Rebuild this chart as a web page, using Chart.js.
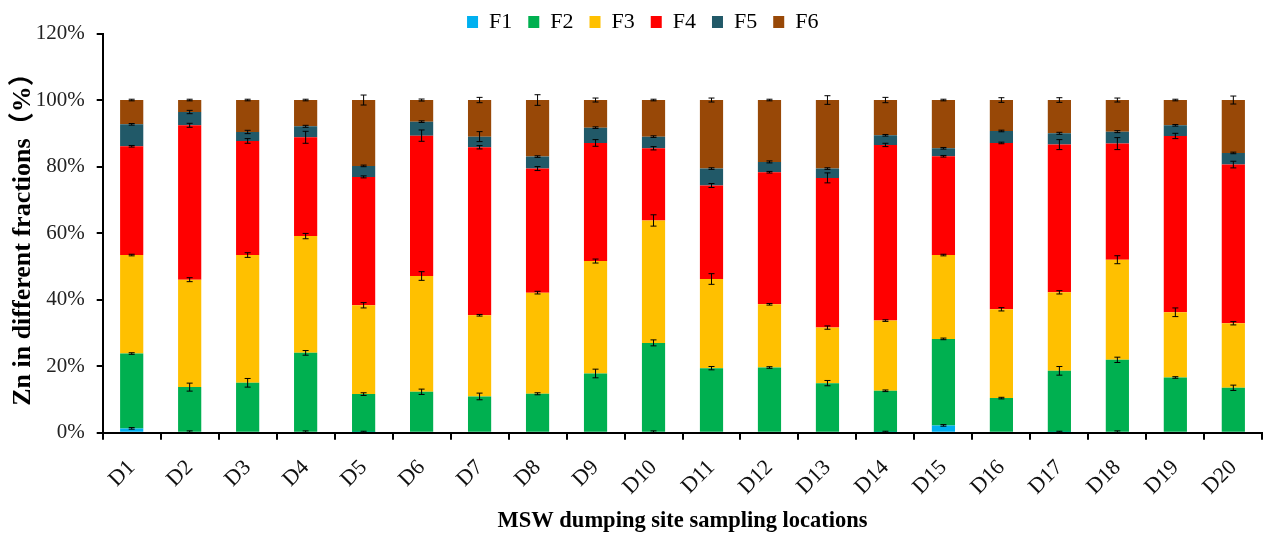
<!DOCTYPE html>
<html>
<head>
<meta charset="utf-8">
<script src="https://cdn.jsdelivr.net/npm/chart.js@4"></script>
<style>
html,body{margin:0;padding:0;background:#fff;}
#wrap{width:1267px;height:535px;position:relative;}
</style>
</head>
<body>
<div id="wrap"><canvas id="c" width="1267" height="535"></canvas></div>
<script>
const categories = ['D1','D2','D3','D4','D5','D6','D7','D8','D9','D10','D11','D12','D13','D14','D15','D16','D17','D18','D19','D20'];
const seriesNames = ['F1','F2','F3','F4','F5','F6'];
const F1 = [1.3,0.3,0,0.3,0.2,0,0,0,0,0.3,0,0,0,0.2,2.2,0,0.2,0.3,0,0];
const F2 = [22.5,13.4,15.0,23.7,11.4,12.3,10.9,11.7,17.8,26.7,19.4,19.6,14.9,12.4,26.0,10.4,18.4,21.6,16.6,13.5];
const F3 = [29.6,32.3,38.4,35.1,26.7,34.8,24.4,30.4,33.8,36.8,26.8,19.0,16.7,21.1,25.2,26.7,23.6,30.1,19.6,19.4];
const F4 = [32.7,46.4,34.3,29.7,38.6,42.2,50.5,37.3,35.5,21.7,28.1,39.7,45.0,52.8,29.7,50.0,44.4,34.9,53.0,47.7];
const F5 = [6.6,4.0,2.7,3.3,3.3,4.2,3.2,3.6,4.6,3.5,5.1,3.1,2.8,2.9,2.4,3.6,3.4,3.6,3.2,3.5];
const F6 = [7.3,3.6,9.6,7.9,19.8,6.5,11.0,17.0,8.3,11.0,20.6,18.6,20.6,10.6,14.5,9.3,10.0,9.5,7.6,15.9];
// error bar half-lengths (percentage points)
const E1 = [0.1,0.2,0,0.1,0.1,0,0,0,0,0.2,0,0,0,0.1,0.1,0,0.1,0.2,0,0];
const E2 = [0.1,1.2,1.3,0.7,0.4,0.8,1.0,0.3,1.3,0.9,0.5,0.2,0.8,0.1,0.1,0.1,1.3,0.8,0.2,0.8];
const E3 = [0.1,0.6,0.7,0.8,0.8,1.3,0.1,0.4,0.6,1.7,1.6,0.2,0.5,0.1,0.1,0.5,0.5,1.2,1.3,0.5];
const E4 = [0.1,0.6,0.7,1.8,0.3,1.7,0.5,0.6,1.0,0.5,0.6,0.1,1.5,0.5,0.1,0.1,1.5,1.8,0.8,1.0];
const E5 = [0.1,0.5,0.5,0.3,0.2,0.1,1.5,0.1,0.1,0.2,0.2,0.3,0.2,0.1,0.2,0.2,0.3,0.3,0.2,0.2];
const E6 = [0.1,0.1,0.2,0.2,1.5,0.3,0.8,1.6,0.6,0.2,0.6,0.1,1.3,0.8,0.1,0.7,0.7,0.6,0.1,1.2];
const yTicks = [0,20,40,60,80,100,120];

const seriesValues = [F1,F2,F3,F4,F5,F6];
const seriesErrors = [E1,E2,E3,E4,E5,E6];
const colors = ['#00B0F0','#00B050','#FFC000','#FF0000','#215968','#984807'];

const serif = '"Liberation Serif","Times New Roman",serif';

const errorBars = {
  id: 'errorBars',
  afterDatasetsDraw(chart) {
    const ctx = chart.ctx;
    const ys = chart.scales.y;
    const unit = ys.getPixelForValue(0) - ys.getPixelForValue(1);
    ctx.save();
    ctx.strokeStyle = '#000';
    ctx.lineWidth = 1;
    chart.data.datasets.forEach((ds, i) => {
      const meta = chart.getDatasetMeta(i);
      meta.data.forEach((bar, j) => {
        const v = ds.data[j];
        const e = ds.errors[j];
        if (!v && !e) return;
        const x = bar.x, y = bar.y;
        const d = Math.max(e * unit, 0.8);
        ctx.beginPath();
        ctx.moveTo(x, y - d); ctx.lineTo(x, y + d);
        ctx.moveTo(x - 3, y - d); ctx.lineTo(x + 3, y - d);
        ctx.moveTo(x - 3, y + d); ctx.lineTo(x + 3, y + d);
        ctx.stroke();
      });
    });
    ctx.restore();
  }
};

const legendFit = {
  id: 'legendFit',
  beforeLayout(chart) {
    const lg = chart.legend;
    if (lg && !lg._patched) {
      const orig = lg.fit.bind(lg);
      lg.fit = function() { orig(); this.height = 38.5; };
      lg._patched = true;
    }
  },
  afterLayout(chart) {
    const lg = chart.legend;
    if (lg) { lg.left += 6.5; lg.right += 6.5; }
  }
};

new Chart(document.getElementById('c'), {
  type: 'bar',
  data: {
    labels: categories,
    datasets: seriesNames.map((n, i) => ({
      label: n,
      data: seriesValues[i],
      errors: seriesErrors[i],
      backgroundColor: colors[i],
      borderWidth: 0,
      barPercentage: 0.40,
      categoryPercentage: 1.0
    }))
  },
  options: {
    responsive: false,
    animation: false,
    layout: { padding: { top: -5, left: 0, right: -5.5, bottom: 0 } },
    plugins: {
      tooltip: { enabled: false },
      legend: {
        position: 'top',
        align: 'center',
        labels: {
          boxWidth: 11,
          boxHeight: 12,
          padding: 16,
          color: '#000',
          font: { family: serif, size: 22 }
        }
      }
    },
    scales: {
      x: {
        stacked: true,
        offset: true,
        grid: { display: true, drawOnChartArea: false, drawTicks: true, tickLength: 7, color: '#000', lineWidth: 2, offset: true },
        border: { display: true, color: '#000', width: 2 },
        ticks: {
          autoSkip: false, minRotation: 45, maxRotation: 45, padding: 15,
          color: '#111', font: { family: serif, size: 22 }
        },
        title: {
          display: true,
          text: 'MSW dumping site sampling locations',
          color: '#000',
          font: { family: serif, size: 22.5, weight: 'bold' },
          padding: { top: 4, bottom: 0 }
        },
        afterFit(s) { s.height = 102.3; }
      },
      y: {
        stacked: true,
        min: 0, max: 120,
        afterBuildTicks(s) { s.ticks = yTicks.map(v => ({ value: v })); },
        grid: { display: true, drawOnChartArea: false, drawTicks: true, tickLength: 6, color: '#000', lineWidth: 2 },
        border: { display: true, color: '#000', width: 2 },
        ticks: {
          padding: 12,
          color: '#222',
          font: { family: serif, size: 21 },
          callback: v => v + '%'
        },
        title: {
          display: true,
          text: 'Zn in different fractions（%）',
          color: '#000',
          font: { family: '"Liberation Serif","Times New Roman","Noto Sans CJK SC",serif', size: 26, weight: 'bold' },
          padding: { top: 8, bottom: 0 }
        },
        afterFit(s) { s.width = 102.7; }
      }
    }
  },
  plugins: [errorBars, legendFit]
});
</script>
</body>
</html>
